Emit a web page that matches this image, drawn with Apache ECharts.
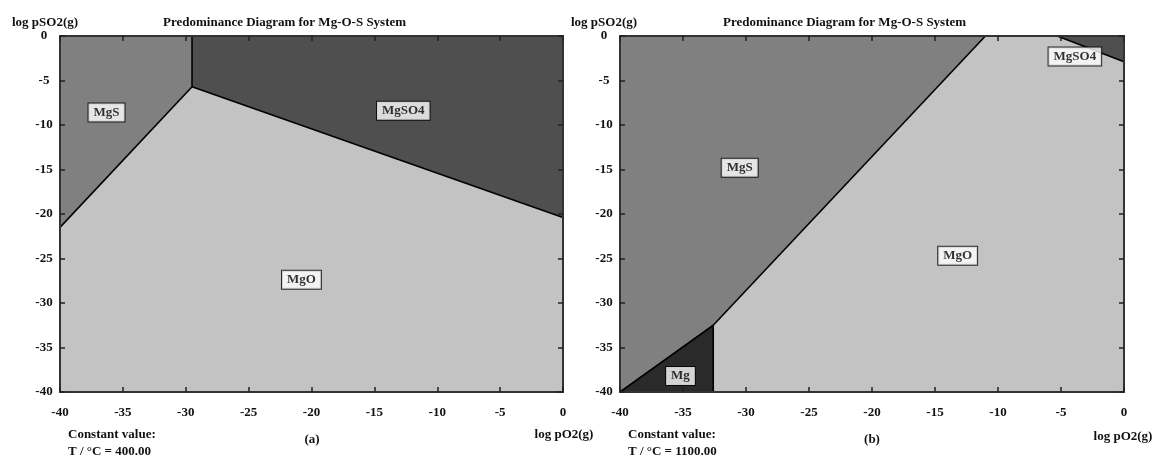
<!DOCTYPE html>
<html><head><meta charset="utf-8">
<script src="https://cdn.jsdelivr.net/npm/echarts@6/dist/echarts.min.js"></script>
<style>html,body{margin:0;padding:0;background:#fff}#c{width:1155px;height:457px}</style>
</head><body><div id="c"></div>
<script>
// ---- data ----
const titleText = 'Predominance Diagram for Mg-O-S System';
const yName = 'log pSO2(g)';
const xName = 'log pO2(g)';
const tickLabels = [-40, -35, -30, -25, -20, -15, -10, -5, 0];
const phaseNames = ['MgS', 'MgSO4', 'MgO', 'Mg'];

// (a) T = 400 °C  — polygon vertices [log pO2, log pSO2]
const a_MgS   = [[-40, 0], [-29.5, 0], [-29.5, -5.7], [-40, -21.5]];
const a_MgSO4 = [[-29.5, 0], [0, 0], [0, -20.4], [-29.5, -5.7]];
const a_MgO   = [[-40, -21.5], [-29.5, -5.7], [0, -20.4], [0, -40], [-40, -40]];
const a_lines = [
  [[-40, -21.5], [-29.5, -5.7]],
  [[-29.5, 0], [-29.5, -5.7]],
  [[-29.5, -5.7], [0, -20.4]]
];
const a_labels = [['MgS', -36.3, -8.6], ['MgSO4', -12.7, -8.4], ['MgO', -20.8, -27.4]];

// (b) T = 1100 °C
const b_MgS   = [[-40, 0], [-11, 0], [-32.6, -32.5], [-40, -40]];
const b_MgO   = [[-11, 0], [-5.3, 0], [0, -2.9], [0, -40], [-32.6, -40], [-32.6, -32.5]];
const b_MgSO4 = [[-5.3, 0], [0, 0], [0, -2.9]];
const b_Mg    = [[-40, -40], [-32.6, -32.5], [-32.6, -40]];
const b_lines = [
  [[-40, -40], [-32.6, -32.5]],
  [[-32.6, -32.5], [-32.6, -40]],
  [[-32.6, -32.5], [-11, 0]],
  [[-5.3, 0], [0, -2.9]]
];
const b_labels = [['MgS', -30.5, -14.8], ['MgO', -13.2, -24.7], ['MgSO4', -3.9, -2.3], ['Mg', -35.2, -38.2]];

// ---- styles ----
const FONT = 'Liberation Serif';
const FS = 13;
const colors = { MgS: '#808080', MgSO4: '#4f4f4f', MgO: '#c3c3c3', Mg: '#2a2a2a' };

function polySeries(idx, polys, names) {
  return {
    type: 'custom', xAxisIndex: idx * 2, yAxisIndex: idx * 2, z: 1, silent: true,
    data: polys.map((_, i) => [i]),
    renderItem: function (params, api) {
      const pts = polys[params.dataIndex].map(p => api.coord(p));
      return { type: 'polygon', shape: { points: pts }, style: { fill: colors[names[params.dataIndex]], stroke: null } };
    }
  };
}
function lineSeries(idx, lines) {
  return lines.map(l => ({
    type: 'line', xAxisIndex: idx * 2, yAxisIndex: idx * 2, z: 3, silent: true,
    data: l, symbol: 'none', lineStyle: { color: '#000', width: 1.6 }
  }));
}
function labelSeries(idx, labels) {
  return {
    type: 'scatter', xAxisIndex: idx * 2, yAxisIndex: idx * 2, z: 5, silent: true,
    symbolSize: 1, itemStyle: { color: 'rgba(0,0,0,0)' },
    data: labels.map(l => [l[1], l[2], l[0]]),
    label: {
      show: true, position: 'inside', formatter: p => p.data[2],
      fontFamily: FONT, fontWeight: 'bold', fontSize: FS, color: '#000',
      backgroundColor: '#fff', borderColor: '#000', borderWidth: 1, padding: [3, 5, 2, 5]
    }
  };
}
function axesFor(gi) {
  const common = { type: 'value', min: -40, max: 0, interval: 5, gridIndex: gi, z: 10, splitLine: { show: false },
    axisLine: { show: true, onZero: false, lineStyle: { color: '#333', width: 2 } },
    axisTick: { show: true, inside: true, length: 5, lineStyle: { color: '#222', width: 1.5 } } };
  const lbl = { fontFamily: FONT, fontWeight: 'bold', fontSize: FS, color: '#111' };
  return {
    x: [
      Object.assign({}, common, { position: 'bottom', axisLabel: Object.assign({ margin: 14, formatter: v => String(v) }, lbl) }),
      Object.assign({}, common, { position: 'top', axisLabel: { show: false } })
    ],
    y: [
      Object.assign({}, common, { position: 'left', axisLabel: Object.assign({ margin: 16, align: 'center', formatter: v => String(v) }, lbl) }),
      Object.assign({}, common, { position: 'right', axisLabel: { show: false } })
    ]
  };
}
const A = axesFor(0), B = axesFor(1);

function txt(x, y, s, align) {
  return { type: 'text', x: x, y: y, silent: true,
    style: { text: s, fontFamily: FONT, fontWeight: 'bold', fontSize: FS, fill: '#111', align: align || 'left', verticalAlign: 'middle' } };
}

const option = {
  backgroundColor: '#fff',
  animation: false,
  grid: [
    { left: 60, right: 592, top: 36, bottom: 65 },
    { left: 620, right: 31, top: 36, bottom: 65 }
  ],
  xAxis: [A.x[0], A.x[1], B.x[0], B.x[1]],
  yAxis: [A.y[0], A.y[1], B.y[0], B.y[1]],
  series: [].concat(
    [polySeries(0, [a_MgS, a_MgSO4, a_MgO], ['MgS', 'MgSO4', 'MgO'])],
    lineSeries(0, a_lines),
    [labelSeries(0, a_labels)],
    [polySeries(1, [b_MgS, b_MgO, b_MgSO4, b_Mg], ['MgS', 'MgO', 'MgSO4', 'Mg'])],
    lineSeries(1, b_lines),
    [labelSeries(1, b_labels)]
  ),
  graphic: [
    txt(12, 23, yName), txt(163, 23, titleText),
    txt(571, 23, yName), txt(723, 23, titleText),
    txt(564, 435, xName, 'center'), txt(1123, 437, xName, 'center'),
    txt(68, 435, 'Constant value:'), txt(68, 452, 'T / °C = 400.00'),
    txt(628, 435, 'Constant value:'), txt(628, 452, 'T / °C = 1100.00'),
    txt(312, 440, '(a)', 'center'), txt(872, 440, '(b)', 'center')
  ]
};
echarts.init(document.getElementById('c')).setOption(option);
</script></body></html>
